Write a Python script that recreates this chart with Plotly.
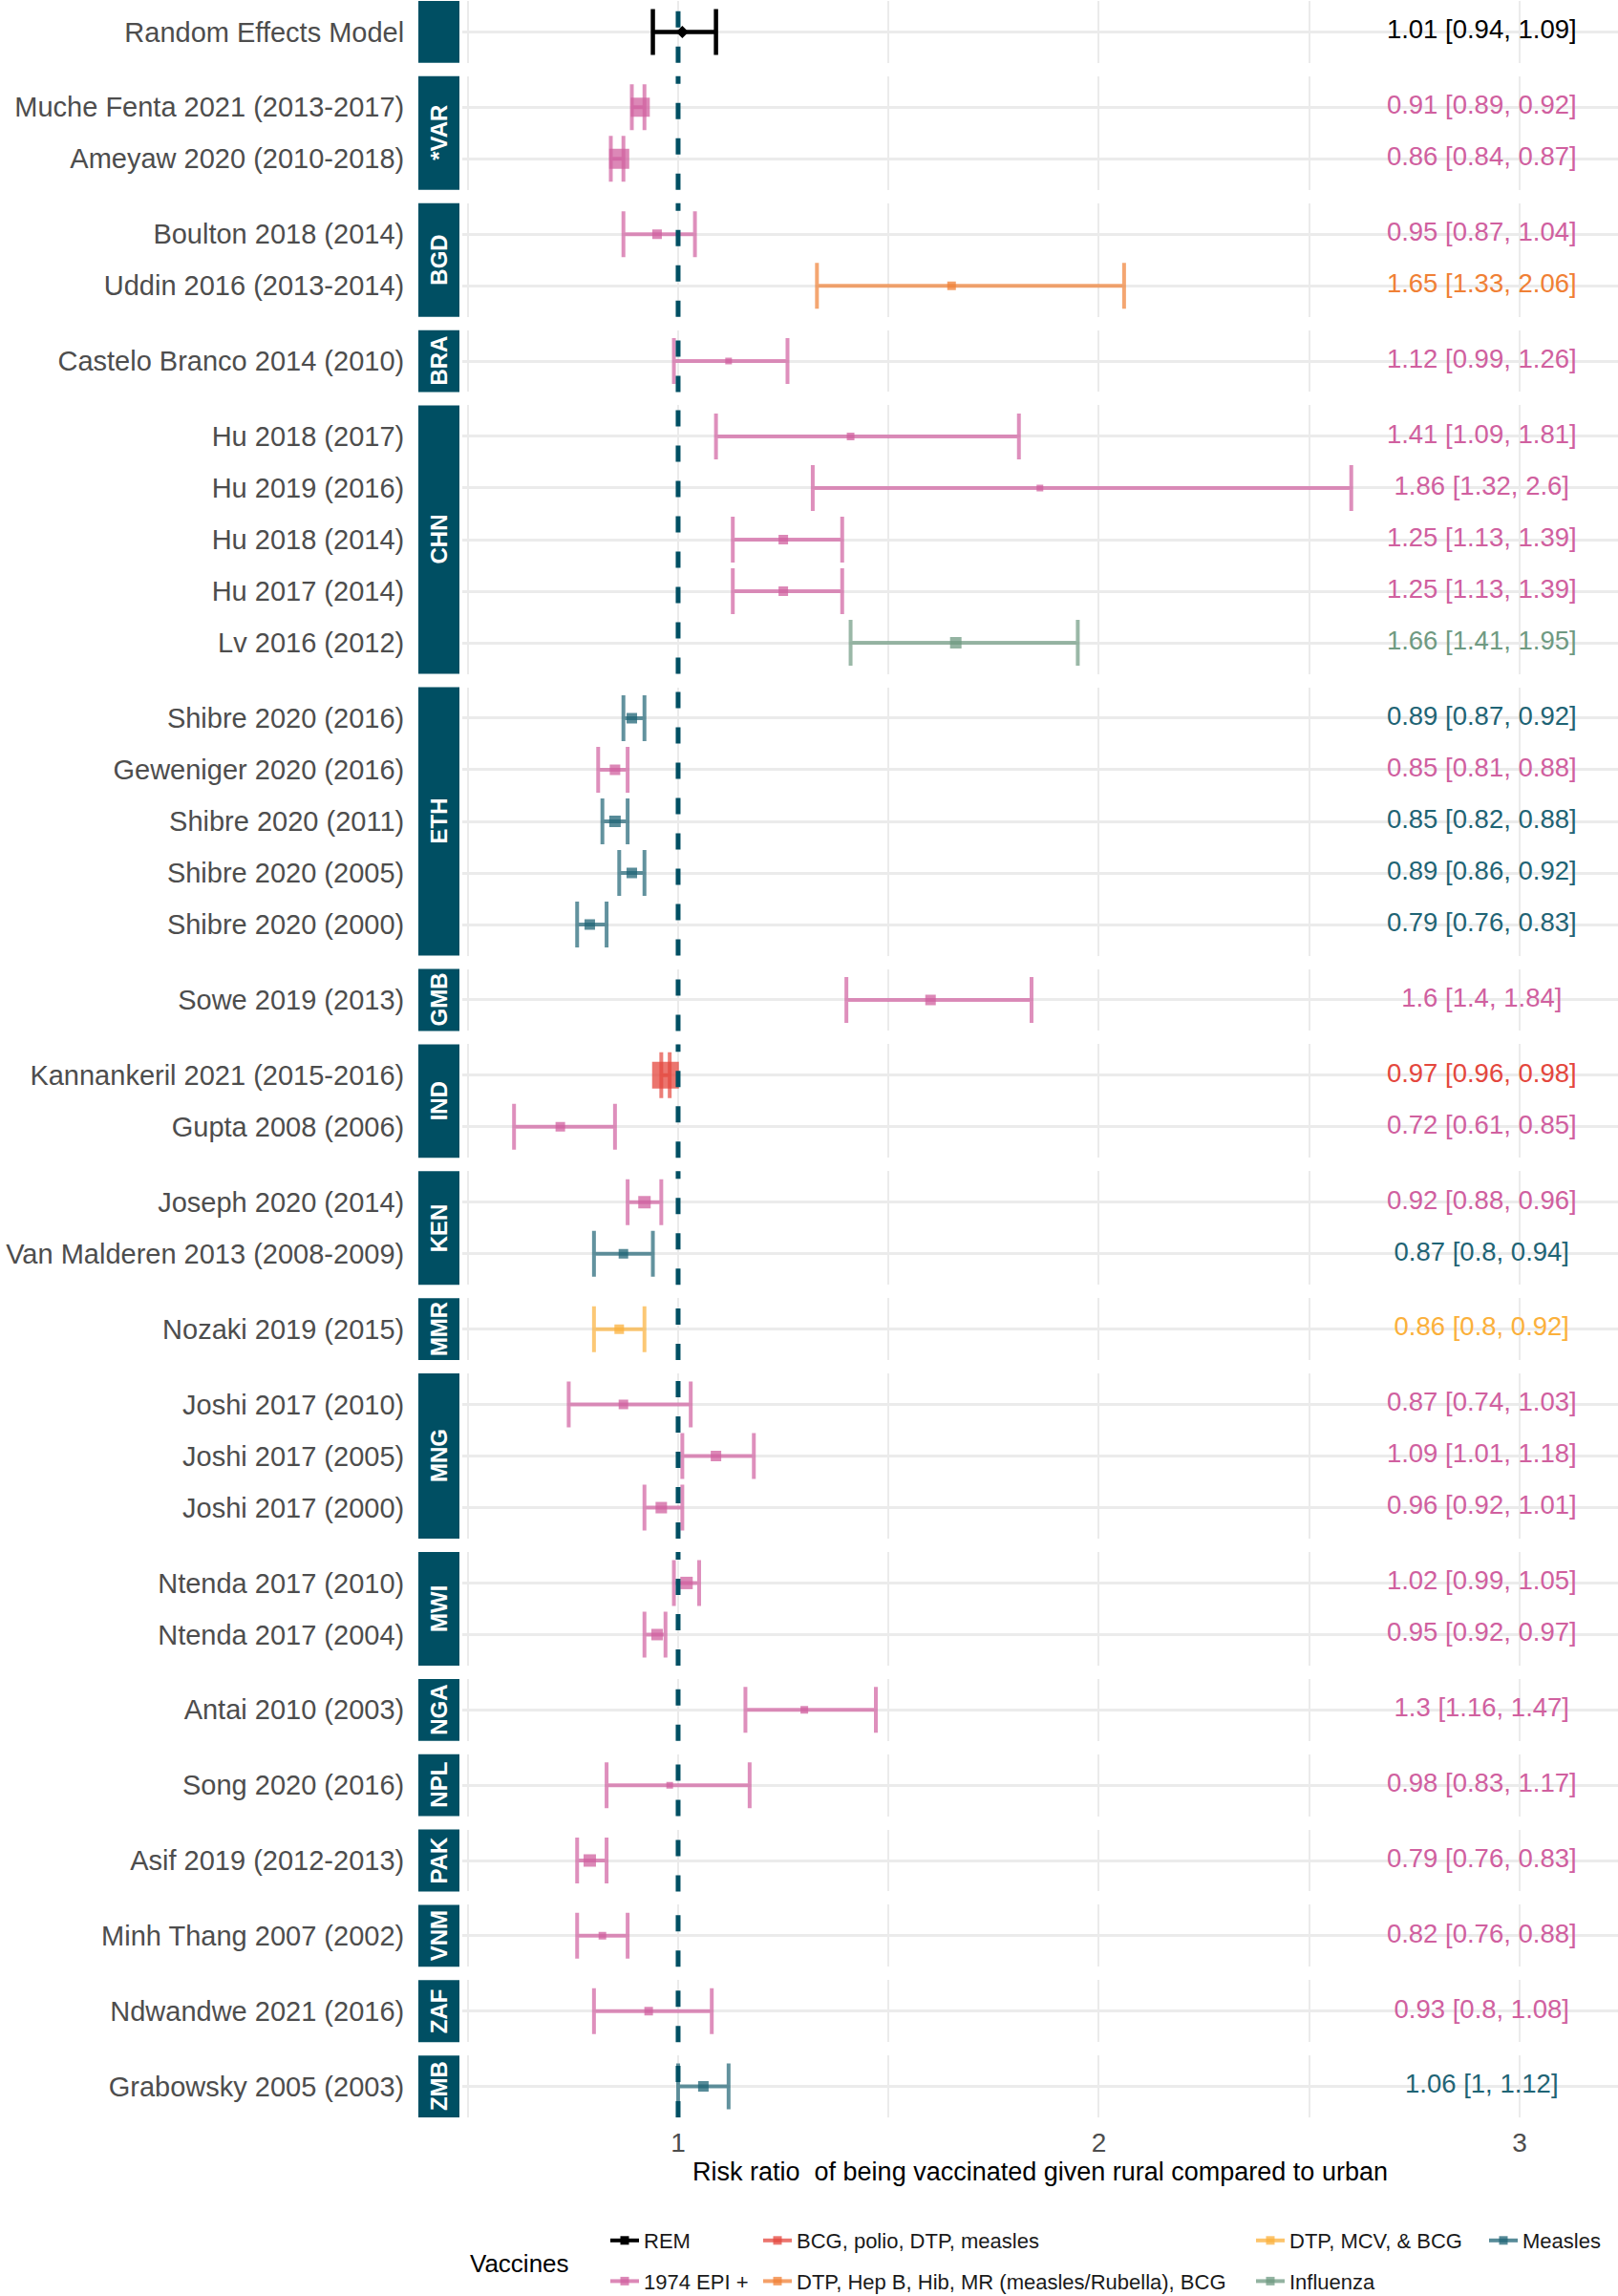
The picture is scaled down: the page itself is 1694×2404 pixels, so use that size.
import plotly.graph_objects as go
from plotly.subplots import make_subplots

# ---------------- data ----------------
countries = ["REM",
             "*VAR", "*VAR",
             "BGD", "BGD",
             "BRA",
             "CHN", "CHN", "CHN", "CHN", "CHN",
             "ETH", "ETH", "ETH", "ETH", "ETH",
             "GMB",
             "IND", "IND",
             "KEN", "KEN",
             "MMR",
             "MNG", "MNG", "MNG",
             "MWI", "MWI",
             "NGA", "NPL", "PAK", "VNM", "ZAF", "ZMB"]

studies = ["Random Effects Model",
           "Muche Fenta 2021 (2013-2017)", "Ameyaw 2020 (2010-2018)",
           "Boulton 2018 (2014)", "Uddin 2016 (2013-2014)",
           "Castelo Branco 2014 (2010)",
           "Hu 2018 (2017)", "Hu 2019 (2016)", "Hu 2018 (2014)", "Hu 2017 (2014)", "Lv 2016 (2012)",
           "Shibre 2020 (2016)", "Geweniger 2020 (2016)", "Shibre 2020 (2011)", "Shibre 2020 (2005)", "Shibre 2020 (2000)",
           "Sowe 2019 (2013)",
           "Kannankeril 2021 (2015-2016)", "Gupta 2008 (2006)",
           "Joseph 2020 (2014)", "Van Malderen 2013 (2008-2009)",
           "Nozaki 2019 (2015)",
           "Joshi 2017 (2010)", "Joshi 2017 (2005)", "Joshi 2017 (2000)",
           "Ntenda 2017 (2010)", "Ntenda 2017 (2004)",
           "Antai 2010 (2003)", "Song 2020 (2016)", "Asif 2019 (2012-2013)",
           "Minh Thang 2007 (2002)", "Ndwandwe 2021 (2016)", "Grabowsky 2005 (2003)"]

rr = [1.01,
      0.91, 0.86,
      0.95, 1.65,
      1.12,
      1.41, 1.86, 1.25, 1.25, 1.66,
      0.89, 0.85, 0.85, 0.89, 0.79,
      1.6,
      0.97, 0.72,
      0.92, 0.87,
      0.86,
      0.87, 1.09, 0.96,
      1.02, 0.95,
      1.3, 0.98, 0.79, 0.82, 0.93, 1.06]

lower = [0.94,
         0.89, 0.84,
         0.87, 1.33,
         0.99,
         1.09, 1.32, 1.13, 1.13, 1.41,
         0.87, 0.81, 0.82, 0.86, 0.76,
         1.4,
         0.96, 0.61,
         0.88, 0.8,
         0.8,
         0.74, 1.01, 0.92,
         0.99, 0.92,
         1.16, 0.83, 0.76, 0.76, 0.8, 1.0]

upper = [1.09,
         0.92, 0.87,
         1.04, 2.06,
         1.26,
         1.81, 2.6, 1.39, 1.39, 1.95,
         0.92, 0.88, 0.88, 0.92, 0.83,
         1.84,
         0.98, 0.85,
         0.96, 0.94,
         0.92,
         1.03, 1.18, 1.01,
         1.05, 0.97,
         1.47, 1.17, 0.83, 0.88, 1.08, 1.12]

EPI = "1974 EPI +"
vaccines = ["REM",
            EPI, EPI,
            EPI, "DTP, Hep B, Hib, MR (measles/Rubella), BCG",
            EPI,
            EPI, EPI, EPI, EPI, "Influenza",
            "Measles", EPI, "Measles", "Measles", "Measles",
            EPI,
            "BCG, polio, DTP, measles", EPI,
            EPI, "Measles",
            "DTP, MCV, & BCG",
            EPI, EPI, EPI,
            EPI, EPI,
            EPI, EPI, EPI, EPI, EPI, "Measles"]

# relative study weights (drive marker size)
weights = [None,
           6.8, 7.2,
           2.8, 2.4,
           1.6,
           2.0, 1.6, 2.8, 2.8, 3.6,
           3.2, 3.2, 3.6, 3.2, 3.2,
           3.2,
           10.0, 2.8,
           4.0, 2.8,
           2.8,
           2.8, 3.2, 3.6,
           4.0, 3.6,
           2.0, 1.6, 4.0, 2.0, 2.4, 3.2]

vaccine_levels = ["REM", "1974 EPI +", "BCG, polio, DTP, measles",
                  "DTP, Hep B, Hib, MR (measles/Rubella), BCG",
                  "DTP, MCV, & BCG", "Influenza", "Measles"]

# ---------------- styles ----------------
palette = {
    "REM": "#000000",
    "1974 EPI +": "#D0609F",
    "BCG, polio, DTP, measles": "#E4473D",
    "DTP, Hep B, Hib, MR (measles/Rubella), BCG": "#F08035",
    "DTP, MCV, & BCG": "#FBB03B",
    "Influenza": "#6F9A82",
    "Measles": "#1F6475",
}
STRIP = "#004F63"
GRID = "#EBEBEB"
FONT = "Liberation Sans, Arial, sans-serif"


def rgba(h, a):
    h = h.lstrip("#")
    r, g, b = int(h[0:2], 16), int(h[2:4], 16), int(h[4:6], 16)
    return f"rgba({r},{g},{b},{a})"


def fmt(v):
    return f"{v:g}"


# group rows into facets (keep order)
facets = []
for i, c in enumerate(countries):
    if not facets or facets[-1][0] != c:
        facets.append((c, []))
    facets[-1][1].append(i)

nf = len(facets)
W, H = 1694, 2404
ML, MR, MT, MB = 484, 0, 1, 187
PW = W - ML - MR
plot_h = H - MT - MB
gap = 14

fig = make_subplots(rows=nf, cols=1, shared_xaxes=True,
                    row_heights=[len(ix) + 0.2 for _, ix in facets],
                    vertical_spacing=gap / plot_h)

XR = [0.487, 3.234]
for k, (country, idxs) in enumerate(facets, start=1):
    n = len(idxs)
    pos = list(range(1, n + 1))
    for p, i in zip(pos, idxs):
        col = palette[vaccines[i]]
        is_rem = vaccines[i] == "REM"
        fig.add_trace(go.Scatter(
            x=[rr[i]], y=[p], mode="markers",
            marker=dict(symbol="diamond" if is_rem else "square",
                        size=10 if is_rem else 3 + 2.5 * weights[i],
                        color=col if is_rem else rgba(col, 0.75),
                        line=dict(width=0)),
            error_x=dict(type="data", symmetric=False,
                         array=[upper[i] - rr[i]], arrayminus=[rr[i] - lower[i]],
                         color=col if is_rem else rgba(col, 0.7),
                         thickness=4.5 if is_rem else 4, width=24),
            showlegend=False, hoverinfo="skip"), row=k, col=1)
    # value labels
    fig.add_trace(go.Scatter(
        x=[2.91] * n, y=pos, mode="text",
        text=[f"{fmt(rr[i])} [{fmt(lower[i])}, {fmt(upper[i])}]" for i in idxs],
        textposition="middle center",
        textfont=dict(family=FONT, size=27.5, color=[palette[vaccines[i]] for i in idxs]),
        showlegend=False, hoverinfo="skip"), row=k, col=1)

    yname = "yaxis" if k == 1 else f"yaxis{k}"
    fig.layout[yname].update(
        range=[n + 0.6, 0.4], tickmode="array", tickvals=pos,
        ticktext=[studies[i] for i in idxs],
        tickfont=dict(family=FONT, size=29, color="#4D4D4D"),
        showgrid=True, gridcolor=GRID, gridwidth=2.5, zeroline=False,
        showline=False, ticks="outside", ticklen=54, tickcolor="rgba(0,0,0,0)",
        fixedrange=True)
    xname = "xaxis" if k == 1 else f"xaxis{k}"
    fig.layout[xname].update(
        range=XR, tickmode="array", tickvals=[1, 2, 3],
        showgrid=True, gridcolor=GRID, gridwidth=2, zeroline=False, showline=False,
        minor=dict(tickmode="array", tickvals=[0.5, 1.5, 2.5], showgrid=True,
                   gridcolor=GRID, gridwidth=1.5),
        ticks="outside", ticklen=1, tickcolor="rgba(0,0,0,0)",
        tickfont=dict(family=FONT, size=28, color="#4D4D4D"),
        fixedrange=True)

    xr = "x" if k == 1 else f"x{k}"
    yr = "y domain" if k == 1 else f"y{k} domain"
    # reference line at RR = 1
    fig.add_shape(type="line", x0=1, x1=1, y0=0, y1=1, xref=xr, yref=yr,
                  line=dict(color=STRIP, width=5, dash="17px,20px"))
    # strip
    fig.add_shape(type="rect", xref="paper", yref=yr,
                  x0=(438 - ML) / PW, x1=(481 - ML) / PW,
                  y0=0, y1=1, fillcolor=STRIP, line=dict(width=0))
    fig.add_annotation(xref="paper", yref=yr, x=(459.5 - ML) / PW, y=0.5,
                       xanchor="center", yanchor="middle",
                       text="" if country == "REM" else f"<b>{country}</b>",
                       textangle=-90, showarrow=False,
                       font=dict(family=FONT, size=24, color="white"))

fig.layout[f"xaxis{nf}"].update(
    title=dict(text="Risk ratio  of being vaccinated given rural compared to urban",
               font=dict(family=FONT, size=27, color="#000000"), standoff=5))

# ---------------- legends (4 columns, 2 rows, column-major like ggplot) ----------------
legend_cols = [["REM", "1974 EPI +"],
               ["BCG, polio, DTP, measles", "DTP, Hep B, Hib, MR (measles/Rubella), BCG"],
               ["DTP, MCV, & BCG", "Influenza"],
               ["Measles"]]
legend_text_x = [674, 834, 1350, 1594]
leg_names = ["legend", "legend2", "legend3", "legend4"]
for li, (names, tx) in enumerate(zip(legend_cols, legend_text_x)):
    for nm in names:
        c = palette[nm]
        fig.add_trace(go.Scatter(
            x=[None], y=[None], mode="lines+markers", name=nm,
            line=dict(color=c if nm == "REM" else rgba(c, 0.75), width=4),
            marker=dict(symbol="square", size=9, color=c if nm == "REM" else rgba(c, 0.75)),
            legend=leg_names[li], legendgroup=nm, showlegend=True, hoverinfo="skip"))
    fig.layout[leg_names[li]] = dict(
        x=(tx - 40 - ML) / PW, xanchor="left",
        y=(plot_h - (2325 - MT)) / plot_h, yanchor="top",
        orientation="v", traceorder="grouped", tracegroupgap=11,
        bgcolor="rgba(0,0,0,0)", borderwidth=0, itemwidth=30,
        font=dict(family=FONT, size=22, color="#1A1A1A"))

fig.add_annotation(xref="paper", yref="paper",
                   x=(490 - ML) / PW, xanchor="left",
                   y=(plot_h - (2370 - MT)) / plot_h, yanchor="middle",
                   text="Vaccines", showarrow=False,
                   font=dict(family=FONT, size=26, color="#000000"))

fig.update_layout(
    width=W, height=H,
    margin=dict(l=ML, r=MR, t=MT, b=MB, autoexpand=False),
    paper_bgcolor="white", plot_bgcolor="white",
    font=dict(family=FONT),
    showlegend=True,
)

fig.write_html("out.html", config={"displayModeBar": False},
               post_script="document.body.style.margin='0';")
